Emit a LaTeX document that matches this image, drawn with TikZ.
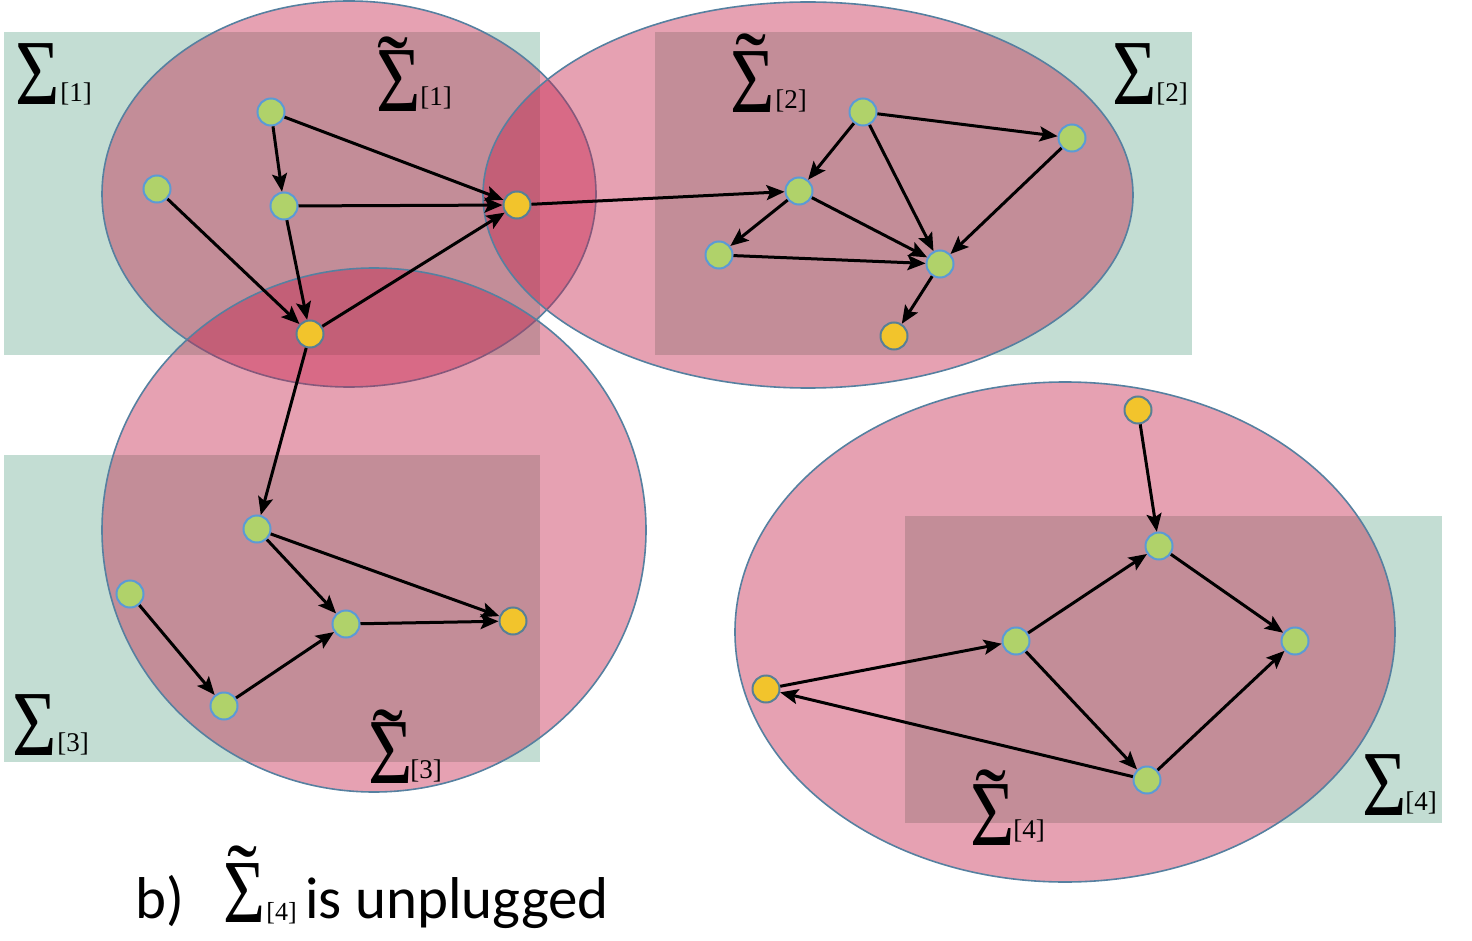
\documentclass[tikz,border=0pt]{standalone}
\usepackage{fontspec}
\usepackage{graphicx}
\setmainfont{Liberation Serif}
\newfontfamily\calib{Carlito}
\usetikzlibrary{arrows.meta}
\definecolor{rectgreen}{RGB}{195,221,211}
\definecolor{pinkfill}{RGB}{197,36,76}
\definecolor{ellline}{RGB}{86,128,160}
\definecolor{nodegreen}{RGB}{176,210,106}
\definecolor{nodeblue}{RGB}{91,155,213}
\definecolor{nodeyellow}{RGB}{242,196,44}
\definecolor{yellowline}{RGB}{88,128,150}
\begin{document}
\begin{tikzpicture}[x=0.5pt,y=-0.5pt,
 grect/.style={fill=rectgreen, draw=none},
 pell/.style={fill=pinkfill, fill opacity=0.43, draw=ellline, line width=0.8pt},
 gnode/.style={circle, fill=nodegreen, draw=nodeblue, line width=1pt, minimum size=13.5pt, inner sep=0pt},
 ynode/.style={circle, fill=nodeyellow, draw=yellowline, line width=1pt, minimum size=13.5pt, inner sep=0pt},
 edge/.style={-{Stealth[length=9pt,width=7.5pt,inset=1.8pt]}, line width=1.5pt, black},
 bigsig/.style={inner sep=0pt, anchor=base west, font=\fontsize{46.5pt}{46.5pt}\selectfont},
 subs/.style={inner sep=0pt, anchor=base west, font=\fontsize{13.5pt}{13.5pt}\selectfont},
 tild/.style={inner sep=0pt, anchor=base, font=\fontsize{46.5pt}{46.5pt}\selectfont},
 smallsig/.style={inner sep=0pt, anchor=base west, font=\fontsize{45pt}{45pt}\selectfont},
 smallsubs/.style={inner sep=0pt, anchor=base west, font=\fontsize{13pt}{13pt}\selectfont},
 smalltild/.style={inner sep=0pt, anchor=base, font=\fontsize{45pt}{45pt}\selectfont},
 caption/.style={inner sep=0pt, anchor=base west, font=\calib\fontsize{29.5pt}{29.5pt}\selectfont}
]
\useasboundingbox (0,0) rectangle (1472,941);
% green rectangles
\fill[grect] (4,32) rectangle (540,355);
\fill[grect] (655,32) rectangle (1192,355);
\fill[grect] (4,455) rectangle (540,762);
\fill[grect] (905,516) rectangle (1442,823);
% pink ellipses
\path[pell] (349,194) ellipse [x radius=247, y radius=193];
\path[pell] (808,195) ellipse [x radius=325, y radius=193];
\path[pell] (374,530) ellipse [x radius=272, y radius=262];
\path[pell] (1065,632) ellipse [x radius=330, y radius=250];
% labels
\node[bigsig] (s1) at (15,105) {\scalebox{0.82}[1]{Σ}};
\node[subs] (s1i) at (60,102) {[1]};
\node[bigsig] (s2) at (1112,105) {\scalebox{0.82}[1]{Σ}};
\node[subs] (s2i) at (1156,102) {[2]};
\node[bigsig] (s3) at (12,755) {\scalebox{0.82}[1]{Σ}};
\node[subs] (s3i) at (57,751) {[3]};
\node[bigsig] (s4) at (1362,815) {\scalebox{0.82}[1]{Σ}};
\node[subs] (s4i) at (1405,810) {[4]};
\node[bigsig] (t1) at (376,112) {\scalebox{0.82}[1]{Σ}};
\node[subs] (t1i) at (420,106) {[1]};
\node[tild] (t1t) at (393,100) {˜};
\node[bigsig] (t2) at (730,113) {\scalebox{0.82}[1]{Σ}};
\node[subs] (t2i) at (775,109) {[2]};
\node[tild] (t2t) at (751,97) {˜};
\node[bigsig] (t3) at (368,783) {\scalebox{0.82}[1]{Σ}};
\node[subs] (t3i) at (410,778) {[3]};
\node[tild] (t3t) at (388,772) {˜};
\node[bigsig] (t4) at (970,845) {\scalebox{0.82}[1]{Σ}};
\node[subs] (t4i) at (1013,838) {[4]};
\node[tild] (t4t) at (991,832) {˜};
% caption
\node[caption] (cb) at (135,918) {b)};
\node[smallsig] (cs) at (223,922) {\scalebox{0.8}[1]{Σ}};
\node[smalltild] (cst) at (242,906) {˜};
\node[smallsubs] (csi) at (266,920) {[4]};
\node[caption] (ct) at (305,918) {is unplugged};
% nodes panel 1
\node[gnode] (a1) at (271,112) {};
\node[gnode] (a2) at (157,189) {};
\node[gnode] (a3) at (284,206) {};
\node[ynode] (y1) at (517,205) {};
\node[ynode] (y2) at (310,334) {};
% panel 2
\node[gnode] (b1) at (863,112) {};
\node[gnode] (b2) at (799,191) {};
\node[gnode] (b3) at (1072,138) {};
\node[gnode] (b4) at (719,255) {};
\node[gnode] (b5) at (940,264) {};
\node[ynode] (y3) at (894,336) {};
% panel 3
\node[gnode] (c1) at (257,529) {};
\node[gnode] (c2) at (130,594) {};
\node[gnode] (c3) at (346,624) {};
\node[gnode] (c4) at (224,706) {};
\node[ynode] (y4) at (513,621) {};
% panel 4
\node[ynode] (y5) at (1138,410) {};
\node[gnode] (d1) at (1159,546) {};
\node[gnode] (d2) at (1016,641) {};
\node[gnode] (d3) at (1295,641) {};
\node[gnode] (d4) at (1147,780) {};
\node[ynode] (y6) at (766,689) {};
% edges
\draw[edge] (a1) -- (y1);
\draw[edge] (a1) -- (a3);
\draw[edge] (a3) -- (y1);
\draw[edge] (a3) -- (y2);
\draw[edge] (a2) -- (y2);
\draw[edge] (y2) -- (y1);
\draw[edge] (y1) -- (b2);
\draw[edge] (y2) -- (c1);
\draw[edge] (b1) -- (b3);
\draw[edge] (b1) -- (b2);
\draw[edge] (b1) -- (b5);
\draw[edge] (b3) -- (b5);
\draw[edge] (b2) -- (b4);
\draw[edge] (b2) -- (b5);
\draw[edge] (b4) -- (b5);
\draw[edge] (b5) -- (y3);
\draw[edge] (c1) -- (c3);
\draw[edge] (c1) -- (y4);
\draw[edge] (c2) -- (c4);
\draw[edge] (c4) -- (c3);
\draw[edge] (c3) -- (y4);
\draw[edge] (y5) -- (d1);
\draw[edge] (d2) -- (d1);
\draw[edge] (d1) -- (d3);
\draw[edge] (d2) -- (d4);
\draw[edge] (d4) -- (d3);
\draw[edge] (y6) -- (d2);
\draw[edge] (d4) -- (y6);
\end{tikzpicture}
\end{document}
